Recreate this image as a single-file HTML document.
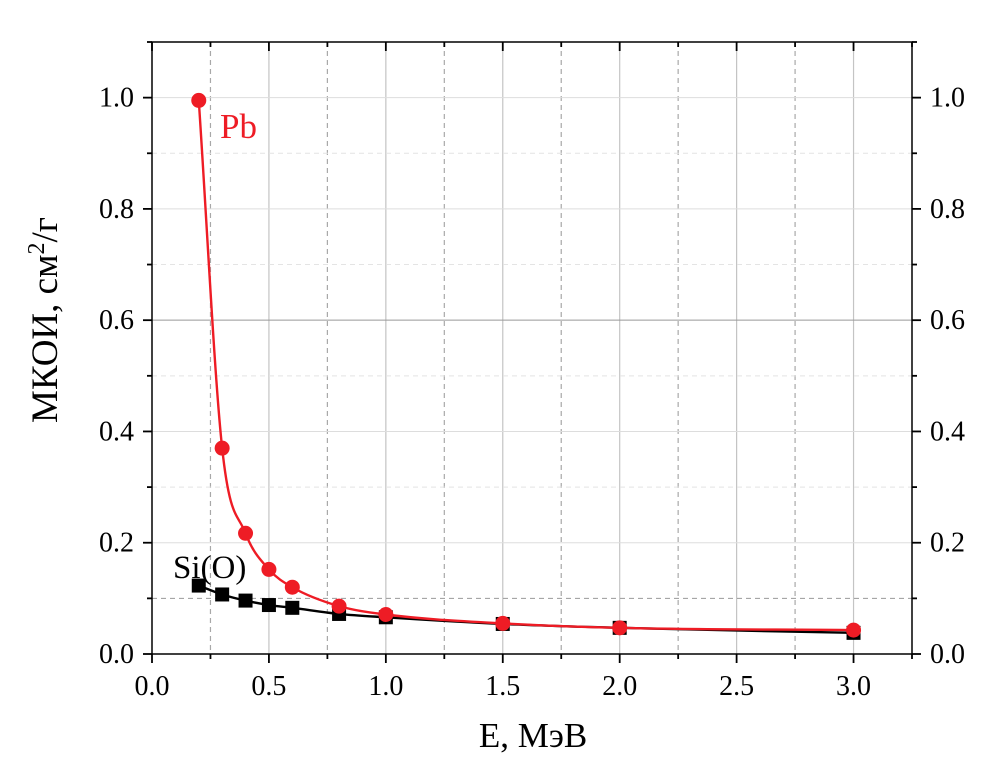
<!DOCTYPE html>
<html><head><meta charset="utf-8"><style>
body{margin:0;background:#fff}
svg text{font-family:"Liberation Serif",serif}
</style></head><body>
<svg id="c" width="981" height="766" xmlns="http://www.w3.org/2000/svg"></svg>
<script>
const energies=[0.2,0.3,0.4,0.5,0.6,0.8,1.0,1.5,2.0,3.0];
const pbValues=[0.995,0.37,0.217,0.152,0.12,0.086,0.071,0.055,0.047,0.043];
const siValues=[0.123,0.107,0.096,0.088,0.083,0.072,0.066,0.054,0.047,0.038];
const xTickLabels=["0.0","0.5","1.0","1.5","2.0","2.5","3.0"];
const yTickLabels=["0.0","0.2","0.4","0.6","0.8","1.0"];
const L=152,R=912,T=42,B=654,XMAX=3.25,YMAX=1.1;
const sx=v=>L+v/XMAX*(R-L), sy=v=>B-v/YMAX*(B-T);
const svg=document.getElementById('c');const NS="http://www.w3.org/2000/svg";
function mk(t,a,p){const e=document.createElementNS(NS,t);for(const k in a)e.setAttribute(k,a[k]);(p||svg).appendChild(e);return e;}
const g=mk('g',{});


for(let i=1;i<13;i++){const v=i*0.25;const solid=i%2==0;
 mk('line',{x1:sx(v),x2:sx(v),y1:T,y2:B,stroke:solid?'#c4c4c4':'#a8a8a8','stroke-width':1.2,'stroke-dasharray':solid?'':'5,4'},g);}
for(let i=1;i<11;i++){const v=i*0.1;const solid=i%2==0;
 mk('line',{x1:L,x2:R,y1:sy(v),y2:sy(v),stroke:i==6?'#999':(i==1?'#999':(solid?'#ddd':'#e4e4e4')),'stroke-width':1,'stroke-dasharray':solid?'':'5,4'},g);}
const ax=mk('rect',{x:L,y:T,width:R-L,height:B-T,fill:'none',stroke:'#000','stroke-width':1.5});


for(let i=0;i<14;i++){const v=i*0.25;if(v>XMAX)break;const x=sx(v),len=i%2==0?9:5;
 mk('line',{x1:x,x2:x,y1:B,y2:B+len,stroke:'#000','stroke-width':1.8});
 mk('line',{x1:x,x2:x,y1:T,y2:T+len,stroke:'#000','stroke-width':1.8});}
xTickLabels.forEach((s,i)=>{const t=mk('text',{x:sx(i*0.5),y:B+41,'text-anchor':'middle','font-size':28});t.textContent=s;
 });
for(let i=0;i<=11;i++){const y=sy(i*0.1),len=i%2==0?9:5;
 mk('line',{x1:L-len,x2:L,y1:y,y2:y,stroke:'#000','stroke-width':1.8});
 mk('line',{x1:R,x2:R+len,y1:y,y2:y,stroke:'#000','stroke-width':1.8});}
yTickLabels.forEach((s,i)=>{const y=sy(i*0.2)+9;
 const a=mk('text',{x:L-18,y:y,'text-anchor':'end','font-size':28});a.textContent=s;
 
 const b=mk('text',{x:R+18,y:y,'text-anchor':'start','font-size':28});b.textContent=s;
 });
function mono(xs,ys){const n=xs.length,d=[],m=[];for(let i=0;i<n-1;i++)d.push((ys[i+1]-ys[i])/(xs[i+1]-xs[i]));
 m[0]=d[0];m[n-1]=d[n-2];for(let i=1;i<n-1;i++)m[i]=d[i-1]*d[i]<=0?0:(d[i-1]+d[i])/2;
 for(let i=0;i<n-1;i++){if(d[i]==0){m[i]=m[i+1]=0;continue;}const a=m[i]/d[i],b=m[i+1]/d[i],s=a*a+b*b;if(s>9){const t=3/Math.sqrt(s);m[i]=t*a*d[i];m[i+1]=t*b*d[i];}}
 let p=`M${sx(xs[0])},${sy(ys[0])}`;for(let i=0;i<n-1;i++){const h=xs[i+1]-xs[i];
 p+=`C${sx(xs[i]+h/3)},${sy(ys[i]+m[i]*h/3)} ${sx(xs[i+1]-h/3)},${sy(ys[i+1]-m[i+1]*h/3)} ${sx(xs[i+1])},${sy(ys[i+1])}`;}return p;}
const siL=mk('path',{d:mono(energies,siValues),fill:'none',stroke:'#000','stroke-width':2.4});

energies.forEach((e,i)=>{const r=mk('rect',{x:sx(e)-7,y:sy(siValues[i])-7,width:14,height:14,fill:'#000'});
 });
const pbL=mk('path',{d:mono(energies,pbValues),fill:'none',stroke:'#ee1c25','stroke-width':2.4});

energies.forEach((e,i)=>{const c=mk('circle',{cx:sx(e),cy:sy(pbValues[i]),r:7.5,fill:'#ee1c25'});
 });
const pl=mk('text',{x:220,y:138,'font-size':35,fill:'#ee1c25'});pl.textContent='Pb';

const sl=mk('text',{x:173,y:578,'font-size':33,fill:'#000'});sl.textContent='Si(O)';

const xt=mk('text',{x:533,y:747,'text-anchor':'middle','font-size':35});xt.textContent='E, МэВ';

const yt=mk('text',{x:0,y:0,'text-anchor':'middle','font-size':37,transform:'translate(57,320) rotate(-90)'});
yt.innerHTML='МКОИ, см<tspan dy="-13" font-size="24">2</tspan><tspan dy="13">/г</tspan>';

</script>
</body></html>
